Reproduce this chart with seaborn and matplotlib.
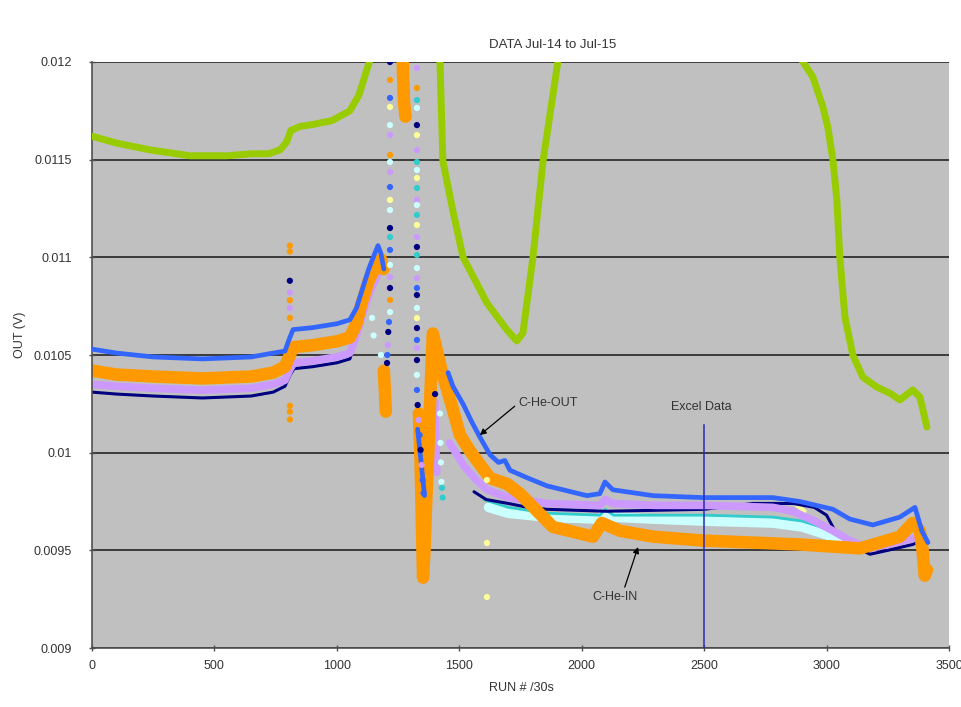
import matplotlib
matplotlib.use("Agg")
import matplotlib.pyplot as plt
import pandas as pd
import seaborn as sns

# ---------------- text ----------------
TITLE = "DATA Jul-14 to Jul-15"
X_LABEL = "RUN # /30s"
Y_LABEL = "OUT (V)"
X_TICKS = [0, 500, 1000, 1500, 2000, 2500, 3000, 3500]
Y_TICKS = [0.009, 0.0095, 0.01, 0.0105, 0.011, 0.0115, 0.012]
Y_TICK_LABELS = ["0.009", "0.0095", "0.01", "0.0105", "0.011", "0.0115", "0.012"]
LABEL_OUT = "C-He-OUT"
LABEL_IN = "C-He-IN"
LABEL_EXCEL = "Excel Data"
EXCEL_RUN = 2500
EXCEL_TOP = 0.01014

# ---------------- series (None separates segments) ----------------
GREEN_X = [0, 100, 237, 400, 550, 650, 720, 768, 795, 812, 850, 900, 980, 1053, 1090, 1120, 1140, 1160, 1300,
           1421, 1433, 1474, 1515, 1613, 1695, 1735, 1760, 1801, 1842, 1903, 2400,
           2899, 2944, 2985, 3005, 3026, 3042, 3054, 3075, 3107, 3148, 3205, 3258, 3299, 3352, 3381, 3410]
GREEN_Y = [0.01162, 0.011585, 0.01155, 0.01152, 0.01152, 0.01153, 0.01153, 0.01155, 0.01159, 0.01165, 0.01167,
           0.01168, 0.01170, 0.01175, 0.01183, 0.01195, 0.01203, 0.0122, 0.0130,
           0.012005, 0.011493, 0.011237, 0.011002, 0.010766, 0.010628, 0.010572, 0.010613, 0.011002, 0.011493,
           0.012005, 0.0130,
           0.01201, 0.011923, 0.01177, 0.011667, 0.011498, 0.011294, 0.011002, 0.010695, 0.0105, 0.010387,
           0.010336, 0.010305, 0.01027, 0.010321, 0.010285, 0.010131]

BLUE_X = [0, 100, 250, 450, 650, 740, 788, 805, 821, 900, 1000, 1053, 1080, 1100, 1130, 1155, 1168, 1180, 1192,
          None,
          1330, 1340, 1350, 1358,
          None,
          1454, 1474, 1515, 1550, 1584, 1625, 1660, 1686, 1707, 1780, 1858, 2021, 2074, 2095, 2127, 2291, 2495,
          2781, 2891, 3026, 3095, 3189, 3299, 3361, 3389, 3414]
BLUE_Y = [0.01053, 0.01051, 0.01049, 0.01048, 0.01049, 0.01051, 0.01052, 0.01058, 0.01063, 0.01064, 0.01066,
          0.01068, 0.01074, 0.01082, 0.01094, 0.01102, 0.01106, 0.01102, 0.01094,
          None,
          0.01012, 0.01000, 0.00988, 0.00978,
          None,
          0.01041, 0.01034, 0.01025, 0.01016, 0.01008, 0.00999, 0.00995, 0.00996, 0.00991, 0.00987, 0.00983,
          0.00978, 0.00979, 0.00985, 0.00981, 0.00978, 0.00977, 0.00977, 0.00975, 0.00971, 0.00966, 0.00963,
          0.00967, 0.00972, 0.00960, 0.00954]

ORANGE_X = [0, 100, 250, 450, 650, 740, 788, 805, 821, 900, 1000, 1053, 1080, 1100, 1130, 1160, 1180, 1190,
            None,
            1192, 1196, 1200,
            None,
            1268, 1270, 1274, 1280,
            None,
            1335, 1342, 1348, 1352, 1358, 1365, 1375, 1385, 1392, 1430, 1474, 1503, 1543, 1625, 1695, 1748, 1882,
            2046, 2082, 2156, 2291, 2495, 2891, 3136, 3299, 3352, 3381, 3392, 3401, 3410]
ORANGE_Y = [0.01042, 0.01040, 0.01039, 0.01038, 0.01039, 0.01041, 0.01044, 0.01049, 0.01054, 0.01055, 0.01057,
            0.01059, 0.01066, 0.01076, 0.01088, 0.01096, 0.01099, 0.01094,
            None,
            0.01042, 0.01032, 0.01021,
            None,
            0.0122, 0.01195, 0.01180, 0.01172,
            None,
            0.01020, 0.00995, 0.00960, 0.00936, 0.00950, 0.00975, 0.01005, 0.01040, 0.01061, 0.01041, 0.01022,
            0.01009, 0.01001, 0.00987, 0.00984, 0.00979, 0.00962, 0.00957, 0.00964, 0.00960, 0.00957, 0.00955,
            0.00953, 0.00951, 0.00957, 0.00964, 0.00960, 0.00950, 0.00937, 0.00940]

LAVENDER_X = [0, 100, 250, 450, 650, 740, 788, 810, 825, 900, 1000, 1053, 1080, 1110, 1140, 1170,
              None,
              1401, 1403, 1405, 1408,
              None,
              1460, 1520, 1570, 1613, 1700, 1860, 2074, 2095, 2127, 2300, 2500, 2781, 2862, 2950, 3026, 3095,
              3177, 3250, 3352, 3381, 3401]
LAVENDER_Y = [0.01035, 0.01034, 0.01033, 0.01032, 0.01033, 0.01035, 0.01037, 0.01043, 0.01046, 0.01047, 0.01049,
              0.01051, 0.01060, 0.01073, 0.01084, 0.01092,
              None,
              0.01026, 0.01012, 0.01000, 0.00990,
              None,
              0.01005, 0.00993, 0.00986, 0.00981, 0.00977, 0.00974, 0.00973, 0.00976, 0.00974, 0.00973, 0.00973,
              0.00972, 0.00970, 0.00965, 0.00960, 0.00955, 0.00951, 0.00953, 0.00956, 0.00958, 0.00950]

NAVY_X = [0, 100, 250, 450, 650, 740, 788, 810, 825, 900, 1000, 1053, 1080, 1110, 1140, 1170,
          None,
          1560, 1610, 1700, 1780, 1860, 2100, 2500, 2700, 2862, 2950, 3000, 3030, 3100, 3177, 3250, 3352, 3390]
NAVY_Y = [0.01031, 0.01030, 0.01029, 0.01028, 0.01029, 0.01031, 0.01034, 0.01040, 0.01043, 0.01044, 0.01046,
          0.01048, 0.01058, 0.01071, 0.01082, 0.01090,
          None,
          0.00980, 0.00976, 0.00974, 0.00972, 0.00971, 0.00970, 0.00971, 0.00974, 0.00974, 0.00972, 0.00968,
          0.00961, 0.00953, 0.00948, 0.00950, 0.00953, 0.00955]

LIGHTCYAN_X = [1620, 1700, 1860, 2074, 2095, 2130, 2300, 2500, 2781, 2900, 3000, 3050]
LIGHTCYAN_Y = [0.00972, 0.00969, 0.00967, 0.00966, 0.00969, 0.00967, 0.00966, 0.00965, 0.00964, 0.00962,
               0.00958, 0.00955]

CYAN_X = [1600, 1700, 1860, 2074, 2095, 2130, 2300, 2500, 2781, 2900, 3000]
CYAN_Y = [0.00976, 0.00972, 0.00969, 0.00968, 0.00971, 0.00968, 0.00968, 0.00968, 0.00967, 0.00965, 0.00961]

YELLOW_X = [2820, 2870, 2910]
YELLOW_Y = [0.00976, 0.00974, 0.00970]

# scattered single samples (series code per point)
DOT_X = ([1217] * 20 + [1213, 1210, 1208, 1206, 1205]
         + [1327] * 30 + [1330, 1334, 1338, 1342, 1346, 1350, 1354]
         + [808, 808, 808, 808, 808, 808, 808, 808, 808, 808]
         + [1401, 1421, 1423, 1425, 1427, 1429, 1432]
         + [1144, 1150, 1180]
         + [1613, 1613, 1613])
DOT_Y = ([0.01200, 0.011908, 0.011816, 0.011770, 0.011677, 0.011626, 0.011524, 0.011488, 0.011437, 0.011360,
          0.011294, 0.011242, 0.011150, 0.011104, 0.011038, 0.010961, 0.010899, 0.010843, 0.010782, 0.010720,
          0.010669, 0.010618, 0.010551, 0.010500, 0.010459]
         + [0.011969, 0.011867, 0.011805, 0.011765, 0.011677, 0.011626, 0.011549, 0.011488, 0.011447, 0.011406,
            0.011355, 0.011294, 0.011268, 0.011217, 0.011166, 0.011104, 0.011053, 0.011012, 0.010945, 0.010894,
            0.010843, 0.010807, 0.010741, 0.010689, 0.010638, 0.010577, 0.010536, 0.010474, 0.010398, 0.010321,
            0.010244, 0.010167, 0.010090, 0.010014, 0.009937, 0.009860, 0.009793]
         + [0.01106, 0.01103, 0.01078, 0.01069, 0.01024, 0.01021, 0.01017, 0.01088, 0.01082, 0.01074]
         + [0.01030, 0.01020, 0.01005, 0.00995, 0.00985, 0.00982, 0.00977]
         + [0.01069, 0.01060, 0.01050]
         + [0.00986, 0.009538, 0.009261])
DOT_S = (list("NOBYWPOWPBYWNCBWPNOWBNPBN")
         + list("POCWNYPCWYCPWCYPNCWPBNWYNBPNWBNPBNPBB")
         + list("OOOOOOONPP")
         + list("NWWWWCC")
         + list("WWW")
         + list("YYY"))

# ---------------- styling ----------------
COLORS = {"G": "#99CC00", "B": "#3366FF", "O": "#FF9900", "P": "#CC99FF", "N": "#000080",
          "W": "#CCFFFF", "C": "#33CCCC", "Y": "#FFFF99"}
TEXT_C = "#333333"

plt.rcParams["font.family"] = ["Liberation Sans", "DejaVu Sans"]

fig = plt.figure(figsize=(9.62, 7.07), dpi=100)
fig.patch.set_facecolor("white")
ax = fig.add_axes([92 / 962, 59 / 707, 857 / 962, 586 / 707])
ax.set_facecolor("#C0C0C0")


def segments(xs, ys):
    segs, cx, cy = [], [], []
    for x, y in zip(xs, ys):
        if x is None:
            segs.append((cx, cy))
            cx, cy = [], []
        else:
            cx.append(x)
            cy.append(y)
    if cx:
        segs.append((cx, cy))
    return segs


def draw(xs, ys, color, lw, z):
    for cx, cy in segments(xs, ys):
        sns.lineplot(x=cx, y=cy, sort=False, estimator=None, color=color, linewidth=lw, ax=ax,
                     solid_capstyle="round", solid_joinstyle="round", zorder=z)


draw(YELLOW_X, YELLOW_Y, COLORS["Y"], 3, 2)
draw(LIGHTCYAN_X, LIGHTCYAN_Y, COLORS["W"], 7, 2.1)
draw(CYAN_X, CYAN_Y, COLORS["C"], 2, 2.2)
draw(NAVY_X, NAVY_Y, COLORS["N"], 2.2, 2.3)
draw(LAVENDER_X, LAVENDER_Y, COLORS["P"], 5.5, 2.4)
draw(ORANGE_X, ORANGE_Y, COLORS["O"], 9, 2.5)
draw(BLUE_X, BLUE_Y, COLORS["B"], 3.4, 2.6)
draw(GREEN_X, GREEN_Y, COLORS["G"], 5, 2.7)

dots = pd.DataFrame({"x": DOT_X, "y": DOT_Y, "s": DOT_S})
sns.scatterplot(data=dots, x="x", y="y", hue="s", palette=COLORS, s=20, linewidth=0,
                legend=False, ax=ax, zorder=2.8)

# Excel Data marker line
ax.plot([EXCEL_RUN, EXCEL_RUN], [Y_TICKS[0], EXCEL_TOP], color="#2a2ab8", lw=1.1, zorder=3)
ax.text(2487, 0.010233, LABEL_EXCEL, ha="center", va="center", fontsize=9, color=TEXT_C, zorder=4)

ax.annotate(LABEL_OUT, xy=(1584, 0.01009), xytext=(1742, 0.010254), ha="left", va="center",
            fontsize=9, color=TEXT_C, zorder=4,
            arrowprops=dict(arrowstyle="-|>", color="black", lw=0.9, mutation_scale=9,
                            relpos=(0, 0.5), shrinkA=1, shrinkB=0))
ax.annotate(LABEL_IN, xy=(2230, 0.009517), xytext=(2137, 0.00926), ha="center", va="center",
            fontsize=9, color=TEXT_C, zorder=4,
            arrowprops=dict(arrowstyle="-|>", color="black", lw=0.9, mutation_scale=9,
                            relpos=(0.68, 1.0), shrinkA=1, shrinkB=0))

# axes
ax.set_xlim(0, 3500)
ax.set_ylim(0.009, 0.012)
ax.set_xticks(X_TICKS)
ax.set_xticklabels([str(t) for t in X_TICKS])
ax.set_yticks(Y_TICKS)
ax.set_yticklabels(Y_TICK_LABELS)
ax.set_xlabel("")
ax.set_ylabel("")
ax.yaxis.grid(True, color="#303030", lw=1.3)
ax.xaxis.grid(False)
ax.set_axisbelow(True)
for side in ("top", "right"):
    ax.spines[side].set_visible(False)
for side in ("left", "bottom"):
    ax.spines[side].set_color("#505050")
    ax.spines[side].set_linewidth(1.2)
ax.tick_params(axis="both", direction="inout", length=5, width=1, colors="#505050",
               labelcolor=TEXT_C, labelsize=9)
ax.tick_params(axis="x", pad=6)
ax.tick_params(axis="y", pad=12)

fig.text(553 / 962, 1 - 45 / 707, TITLE, ha="center", va="center", fontsize=9.5, color=TEXT_C)
fig.text(521 / 962, 1 - 688 / 707, X_LABEL, ha="center", va="center", fontsize=9, color=TEXT_C)
fig.text(20 / 962, 1 - 335 / 707, Y_LABEL, ha="center", va="center", rotation=90, fontsize=9,
         color=TEXT_C)

fig.savefig("out.png", dpi=100, facecolor="white")
